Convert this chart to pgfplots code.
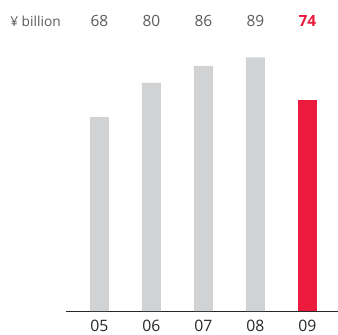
\documentclass[border=0pt]{standalone}
\usepackage{pgfplots}
\pgfplotsset{compat=1.18}
\usepackage{fontspec}
\setmainfont{Open Sans}
\definecolor{bargray}{HTML}{D1D2D4}
\definecolor{barred}{HTML}{EC1A3D}
\definecolor{txtgray}{HTML}{5A5A5A}
\begin{document}
\begin{tikzpicture}
\begin{axis}[
 scale only axis, width=272bp, height=311bp,
 xmin=-0.644, xmax=4.587, ymin=0, ymax=109.1,
 axis x line=bottom, axis y line=none,
 x axis line style={-, draw=black!85, line width=0.9bp},
 xtick={0,...,4}, xticklabels={05,06,07,08,09},
 major tick length=0pt,
 xticklabel style={anchor=base, inner sep=0pt, yshift=-20.5bp, font=\fontsize{15.8}{16}\selectfont, text=black!85},
 ybar, bar width=19bp, bar shift=0pt,
 clip=false,
 /pgf/number format/assume math mode=true,
]
\addplot[fill=bargray, draw=none] coordinates {(0,68) (1,80) (2,86) (3,89)};
\addplot[fill=barred, draw=none] coordinates {(4,74)};
\node[anchor=base, text=txtgray, font=\fontsize{15.5}{16}\selectfont] at (axis cs:0,99.65) {68};
\node[anchor=base, text=txtgray, font=\fontsize{15.5}{16}\selectfont] at (axis cs:1,99.65) {80};
\node[anchor=base, text=txtgray, font=\fontsize{15.5}{16}\selectfont] at (axis cs:2,99.65) {86};
\node[anchor=base, text=txtgray, font=\fontsize{15.5}{16}\selectfont] at (axis cs:3,99.65) {89};
\node[anchor=base, text=barred, font=\bfseries\fontsize{15.5}{16}\selectfont] at (axis cs:4,99.65) {74};
\node[anchor=base east, inner sep=0pt, text=txtgray, font=\fontsize{13.8}{14}\selectfont] at (axis cs:-0.74,99.65) {¥ billion};
\end{axis}
\pgfresetboundingbox
\path ([shift={(-66bp,-24bp)}]current axis.south west) rectangle (current axis.north east);
\end{tikzpicture}
\end{document}
